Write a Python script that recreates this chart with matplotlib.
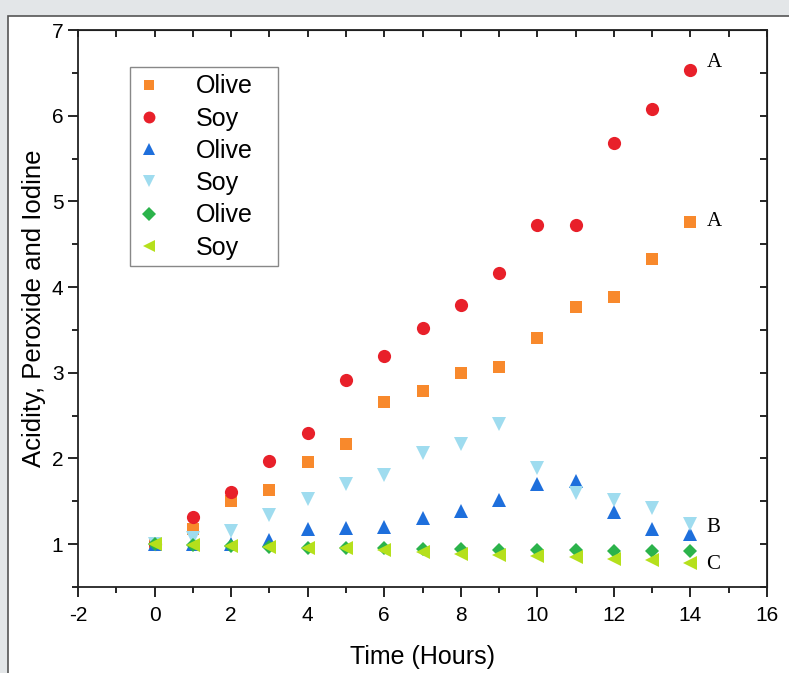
import matplotlib
matplotlib.use("Agg")
import matplotlib.pyplot as plt
from matplotlib.patches import Rectangle
from matplotlib.ticker import MultipleLocator

hours = list(range(0, 15))

olive_a = [1.00, 1.18, 1.50, 1.63, 1.96, 2.17, 2.66, 2.79, 3.00, 3.07, 3.40, 3.77, 3.89, 4.33, 4.76]
soy_a = [1.00, 1.32, 1.61, 1.97, 2.30, 2.92, 3.20, 3.52, 3.79, 4.17, 4.72, 4.72, 5.68, 6.08, 6.53]
olive_b = [1.00, 1.00, 1.00, 1.05, 1.18, 1.19, 1.20, 1.31, 1.39, 1.52, 1.70, 1.74, 1.38, 1.18, 1.12]
soy_b = [1.00, 1.07, 1.15, 1.34, 1.53, 1.70, 1.81, 2.06, 2.17, 2.40, 1.89, 1.60, 1.52, 1.42, 1.24]
olive_c = [1.00, 0.99, 0.98, 0.97, 0.96, 0.95, 0.95, 0.94, 0.94, 0.93, 0.93, 0.93, 0.92, 0.92, 0.92]
soy_c = [1.00, 0.99, 0.98, 0.97, 0.96, 0.95, 0.93, 0.91, 0.89, 0.87, 0.86, 0.85, 0.83, 0.81, 0.78]

plt.rcParams['font.family'] = ['Liberation Sans', 'DejaVu Sans']
plt.rcParams['axes.unicode_minus'] = False

fig = plt.figure(figsize=(7.89, 6.73), dpi=100, facecolor='#e3e6e8')
fig.patches.append(Rectangle((8 / 789, -0.01), 1.0, 1 - 16 / 673 + 0.01, transform=fig.transFigure,
                             facecolor='white', edgecolor='#555555', linewidth=1.2, zorder=-5))

ax = fig.add_axes([78 / 789, 1 - 587 / 673, (767 - 78) / 789, (587 - 30) / 673])
ax.set_zorder(2)
ax.set_facecolor('white')

series = [
    (olive_a, 's', '#f8892c', 'Olive', 8),
    (soy_a, 'o', '#e8202a', 'Soy', 9.5),
    (olive_b, '^', '#1e6fdc', 'Olive', 10),
    (soy_b, 'v', '#9fdcef', 'Soy', 10),
    (olive_c, 'D', '#2bb34b', 'Olive', 7.5),
    (soy_c, '<', '#b5e01c', 'Soy', 10),
]
for vals, mk, col, lab, ms in series:
    ax.plot(hours, vals, linestyle='none', marker=mk, color=col, markersize=ms,
            markeredgewidth=0, label=lab)

ax.set_xlim(-2, 16)
ax.set_ylim(0.5, 7)
ax.xaxis.set_major_locator(MultipleLocator(2))
ax.xaxis.set_minor_locator(MultipleLocator(1))
ax.yaxis.set_major_locator(MultipleLocator(1))
ax.yaxis.set_minor_locator(MultipleLocator(0.5))
ax.tick_params(axis='both', which='both', direction='out', labelsize=15, width=1.2)
ax.tick_params(which='major', length=7)
ax.tick_params(which='minor', length=4)
ax.tick_params(axis='x', pad=7)

# inward ticks on the top and right
sec_x = ax.secondary_xaxis('top')
sec_x.xaxis.set_major_locator(MultipleLocator(1))
sec_x.tick_params(direction='in', length=5, width=1.2, labeltop=False)
sec_y = ax.secondary_yaxis('right')
sec_y.yaxis.set_major_locator(MultipleLocator(0.5))
sec_y.tick_params(direction='in', length=5, width=1.2, labelright=False)

for sp in ax.spines.values():
    sp.set_linewidth(1.3)
    sp.set_color('#222222')

ax.set_xlabel('Time (Hours)', fontsize=18, labelpad=14)
ax.set_ylabel('Acidity, Peroxide and Iodine', fontsize=18.5, labelpad=4)

for x, y, t in [(14.42, 6.62, 'A'), (14.42, 4.77, 'A'), (14.42, 1.19, 'B'), (14.42, 0.76, 'C')]:
    ax.text(x, y, t, family='Liberation Serif', fontsize=15, va='center', ha='left')

# legend without its own frame; the box is drawn separately to get the wide right margin
ax.legend(loc='upper left', bbox_to_anchor=(0.081, 0.934), borderaxespad=0,
          fontsize=18, frameon=False, labelspacing=0.33, handletextpad=1.6,
          borderpad=0.3, handlelength=0.6, markerscale=0.9)
ax.add_patch(Rectangle((0.0755, 0.5763), 0.2148, 0.3573, transform=ax.transAxes,
                       facecolor='none', edgecolor='#888888', linewidth=1.0, zorder=5))

fig.savefig('out.png', dpi=100, facecolor=fig.get_facecolor())
